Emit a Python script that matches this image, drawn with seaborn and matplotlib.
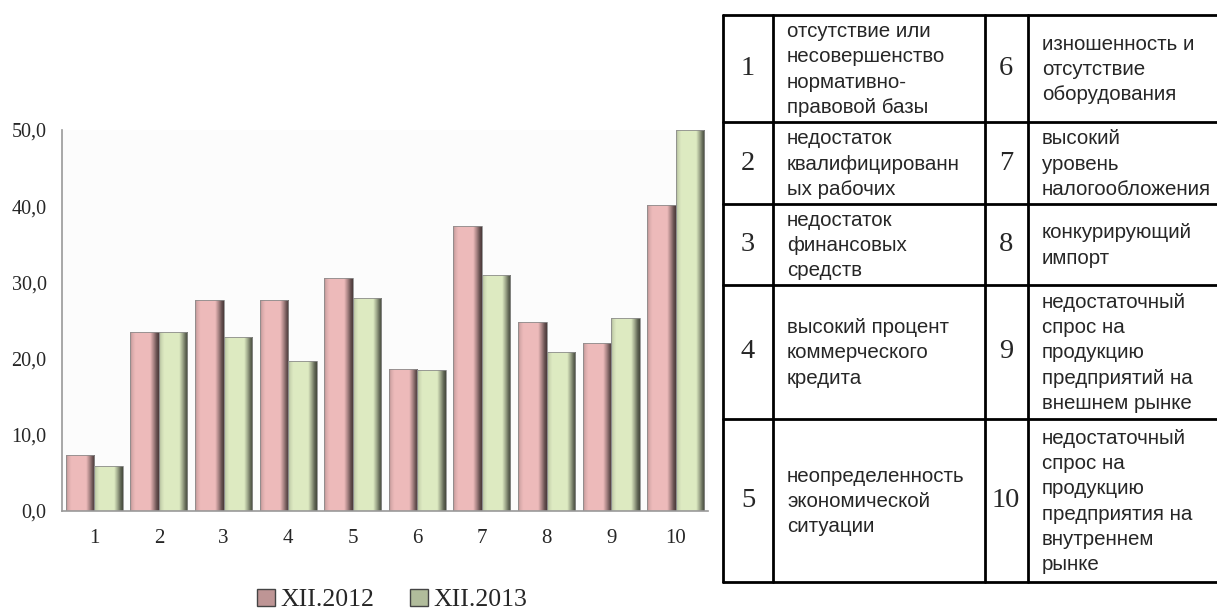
import numpy as np
import pandas as pd
import matplotlib
matplotlib.use("Agg")
import matplotlib.pyplot as plt
import seaborn as sns
from matplotlib.patches import Patch
from matplotlib.ticker import FuncFormatter

# data
factors = ['1', '2', '3', '4', '5', '6', '7', '8', '9', '10']
dec_2012 = [7.4, 23.5, 27.7, 27.7, 30.6, 18.6, 37.4, 24.8, 22.0, 40.2]
dec_2013 = [5.9, 23.5, 22.9, 19.7, 28.0, 18.5, 31.0, 20.9, 25.3, 50.0]
series = ['XII.2012', 'XII.2013']

# legend table of factor names
table_left = [
    ('1', 'отсутствие или\nнесовершенство\nнормативно-\nправовой базы'),
    ('2', 'недостаток\nквалифицированн\nых рабочих'),
    ('3', 'недостаток\nфинансовых\nсредств'),
    ('4', 'высокий процент\nкоммерческого\nкредита'),
    ('5', 'неопределенность\nэкономической\nситуации'),
]
table_right = [
    ('6', 'изношенность и\nотсутствие\nоборудования'),
    ('7', 'высокий\nуровень\nналогообложения'),
    ('8', 'конкурирующий\nимпорт'),
    ('9', 'недостаточный\nспрос на\nпродукцию\nпредприятий на\nвнешнем рынке'),
    ('10', 'недостаточный\nспрос на\nпродукцию\nпредприятия на\nвнутреннем\nрынке'),
]

df = pd.DataFrame({
    'factor': factors * 2,
    'value': dec_2012 + dec_2013,
    'period': [series[0]] * len(factors) + [series[1]] * len(factors),
})

sns.set_style("white")
plt.rcParams['font.family'] = ['Liberation Serif', 'DejaVu Serif']

pink = np.array([0.93, 0.73, 0.73])
green = np.array([0.87, 0.92, 0.76])

W, H = 1217, 614
fig = plt.figure(figsize=(W / 100, H / 100), dpi=100)
ax = fig.add_axes([62 / W, (H - 511) / H, (708 - 62) / W, (511 - 130) / H])
ax.set_facecolor('#fcfcfc')

sns.barplot(data=df, x='factor', y='value', hue='period', order=factors,
            hue_order=series, palette=[tuple(pink), tuple(green)],
            width=0.88, gap=0, edgecolor='#8c8c8c', linewidth=0.6,
            legend=False, ax=ax)

# bevelled look: horizontal shading clipped to each bar
u = np.linspace(0, 1, 64)
shade = np.interp(u, [0, 0.08, 0.18, 0.7, 0.82, 0.92, 1.0],
                  [0.78, 0.92, 1.0, 1.0, 0.72, 0.45, 0.32])
for i, bar in enumerate(list(ax.patches)):
    base = pink if i < len(factors) else green
    img = np.clip(shade[None, :, None] * base[None, None, :], 0, 1)
    x0, y0 = bar.get_x(), bar.get_y()
    w, h = bar.get_width(), bar.get_height()
    im = ax.imshow(img, extent=[x0, x0 + w, y0, y0 + h], aspect='auto',
                   zorder=bar.get_zorder() + 0.1, interpolation='bilinear')
    im.set_clip_path(bar)
    bar.set_zorder(bar.get_zorder() + 0.2)
    bar.set_facecolor('none')

ax.set_xlim(-0.5, len(factors) - 0.5)
ax.set_ylim(0, 50)
ax.set_yticks(np.arange(0, 51, 10))
ax.yaxis.set_major_formatter(FuncFormatter(lambda v, p: f'{v:.1f}'.replace('.', ',')))
ax.set_xlabel('')
ax.set_ylabel('')
ax.set_xticks(np.arange(-0.5, len(factors), 1), minor=True)
ax.tick_params(axis='x', which='major', length=0, pad=13, labelsize=15)
ax.tick_params(axis='x', which='minor', length=6, color='#999999', width=1)
ax.tick_params(axis='y', length=7, color='#999999', width=1, labelsize=14.5, pad=4)
for side in ['top', 'right']:
    ax.spines[side].set_visible(False)
for side in ['left', 'bottom']:
    ax.spines[side].set_color('#999999')
    ax.spines[side].set_linewidth(1.2)

handles = [Patch(facecolor=tuple(pink * 0.8), edgecolor='#444444', label=series[0]),
           Patch(facecolor=tuple(green * 0.8), edgecolor='#444444', label=series[1])]
fig.legend(handles=handles, loc='center', bbox_to_anchor=(392 / W, 14 / H),
           ncol=2, frameon=False, fontsize=18.5, handlelength=0.7, handleheight=0.7,
           handletextpad=0.2, columnspacing=1.4, borderaxespad=0, borderpad=0)

# table drawn on an overlay in pixel coordinates
tx = fig.add_axes([0, 0, 1, 1])
tx.set_xlim(0, W)
tx.set_ylim(H, 0)
tx.axis('off')
col_x = [723, 773, 985, 1028]
row_y = [15, 122, 204, 285, 419, 582]
for yy in row_y:
    tx.plot([col_x[0], W + 5], [yy, yy], color='black', lw=2, clip_on=False)
for xx in col_x:
    tx.plot([xx, xx], [row_y[0], row_y[-1]], color='black', lw=2)

for r in range(5):
    yc = (row_y[r] + row_y[r + 1]) / 2
    for (num, label), (xn, xt) in zip([table_left[r], table_right[r]],
                                      [(748, 787), (1006, 1042)]):
        tx.text(xn, yc, num, ha='center', va='center', fontsize=20.5,
                family=['Liberation Serif'])
        tx.text(xt, yc + 1, label, ha='left', va='center', fontsize=14.8,
                family=['Liberation Sans'], linespacing=1.42)

fig.savefig('out.png', dpi=100)
